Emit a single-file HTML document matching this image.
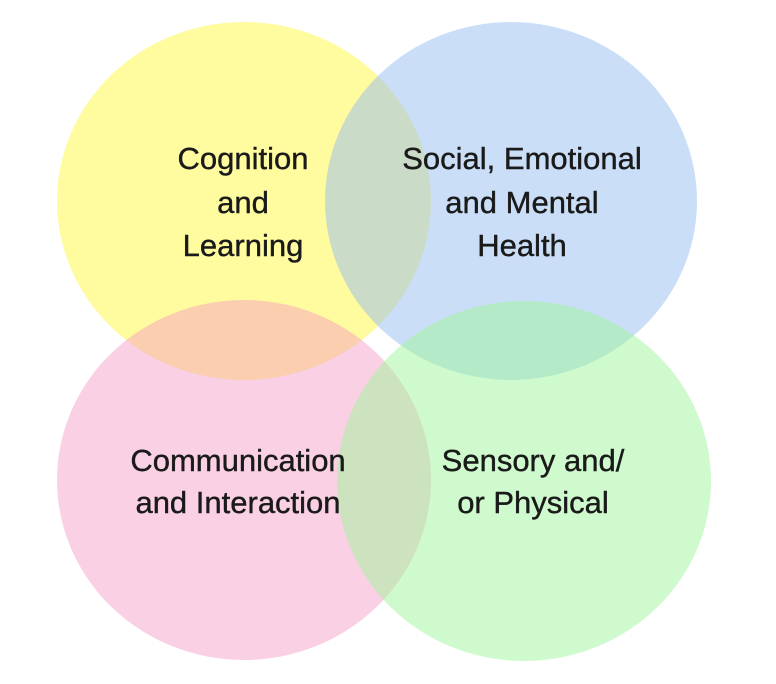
<!DOCTYPE html>
<html><head><style>
html,body{margin:0;padding:0;background:#fff;}
body{width:776px;height:684px;position:relative;overflow:hidden;}
svg{position:absolute;left:0;top:0;}
</style></head><body>
<svg width="776" height="684" viewBox="0 0 776 684">
<ellipse cx="244" cy="201" rx="187" ry="179" fill="rgb(255,248,80)" fill-opacity="0.55"/>
<ellipse cx="511" cy="201" rx="186" ry="179" fill="rgb(150,190,240)" fill-opacity="0.5"/>
<ellipse cx="244" cy="480" rx="187" ry="180" fill="rgb(245,150,195)" fill-opacity="0.45"/>
<ellipse cx="524" cy="481" rx="187" ry="180" fill="rgb(160,245,155)" fill-opacity="0.5"/>
<g font-family="Liberation Sans, sans-serif" font-size="31" fill="#1a1a1a" stroke="#1a1a1a" stroke-width="0.4" text-anchor="middle">
<text x="243" y="169">Cognition</text>
<text x="243" y="213">and</text>
<text x="243" y="256">Learning</text>
<text x="522" y="169">Social, Emotional</text>
<text x="522" y="213">and Mental</text>
<text x="522" y="256">Health</text>
<text x="238" y="471">Communication</text>
<text x="238" y="513">and Interaction</text>
<text x="533" y="471">Sensory and/</text>
<text x="533" y="513">or Physical</text>
</g>
</svg>
</body></html>
